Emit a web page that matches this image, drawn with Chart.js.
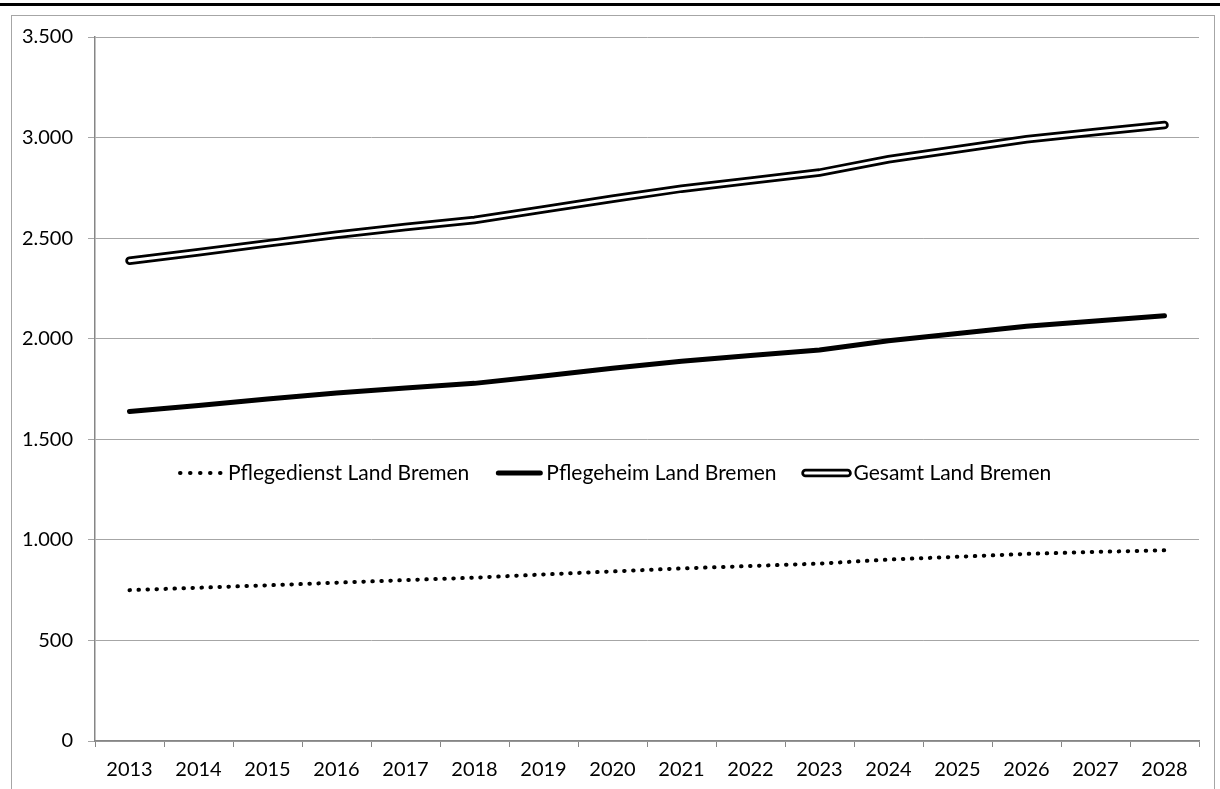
<!DOCTYPE html>
<html lang="de">
<head>
<meta charset="utf-8">
<title>Pflege Land Bremen 2013-2028</title>
<script src="https://cdn.jsdelivr.net/npm/chart.js@4.4.1/dist/chart.umd.min.js"></script>
<style>
  html, body { margin: 0; padding: 0; background: #fff; }
  #wrap { position: relative; width: 1220px; height: 789px; overflow: hidden; }
  .topbar { position: absolute; left: 0; top: 3px; width: 1220px; height: 3px; background: #000; }
  .frame { position: absolute; left: 11px; top: 15px; width: 1202px; height: 820px; border: 1px solid #a6a6a6; }
  #chart { position: absolute; left: 0; top: 0; }
</style>
</head>
<body>
<div id="wrap">
  <div class="topbar"></div>
  <div class="frame"></div>
  <canvas id="chart" width="1220" height="789"></canvas>
</div>
<script>
  // Jahre und Werte je Versorgungsart
  const years = ["2013", "2014", "2015", "2016", "2017", "2018", "2019", "2020",
                 "2021", "2022", "2023", "2024", "2025", "2026", "2027", "2028"];
  const pflegedienst = [750, 762, 774, 787, 800, 812, 828, 843, 858, 870, 882, 902, 916, 930, 940, 948];
  const pflegeheim = [1638, 1668, 1700, 1730, 1755, 1778, 1815, 1853, 1888, 1916, 1944, 1990, 2026, 2062, 2088, 2114];
  const gesamt = [2388, 2430, 2474, 2517, 2555, 2590, 2643, 2696, 2746, 2786, 2826, 2892, 2942, 2992, 3028, 3062];
  const yTicks = [0, 500, 1000, 1500, 2000, 2500, 3000, 3500];

  const FAMILY = "Lato, 'Open Sans', sans-serif";
  const FONT = { family: FAMILY, size: 20 };
  const LEGEND_SIZE = 21;
  const AXIS_GREY = "#868686";
  const GRID_GREY = "#a6a6a6";

  // 3500 -> "3.500"
  function formatDe(v) {
    return String(v).replace(/\B(?=(\d{3})+(?!\d))/g, ".");
  }

  // Legende als Zeile innerhalb der Zeichenfläche
  const legendRow = {
    id: "legendRow",
    afterDatasetsDraw(chart) {
      const ctx = chart.ctx;
      const labels = [];
      chart.data.datasets.forEach(function (ds) {
        if (labels.indexOf(ds.label) < 0) labels.push(ds.label);
      });
      let x = 178;
      const y = 473;
      const swatch = 46;
      ctx.save();
      ctx.font = LEGEND_SIZE + "px " + FAMILY;
      ctx.textBaseline = "middle";
      labels.forEach(function (label) {
        // outline before inner stroke
        const strokes = chart.data.datasets
          .filter(function (ds) { return ds.label === label; })
          .sort(function (a, b) { return (b.order || 0) - (a.order || 0); });
        strokes.forEach(function (ds) {
          ctx.beginPath();
          ctx.lineWidth = ds.legendWidth || ds.borderWidth;
          ctx.strokeStyle = ds.borderColor;
          ctx.lineCap = ds.borderCapStyle || "butt";
          ctx.setLineDash(ds.legendDash || ds.borderDash || []);
          ctx.moveTo(x + 2, y);
          ctx.lineTo(x + swatch - 2, y);
          ctx.stroke();
        });
        ctx.setLineDash([]);
        ctx.fillStyle = "#000";
        ctx.fillText(label, x + swatch + 4, y);
        x += swatch + 4 + ctx.measureText(label).width + 27;
      });
      ctx.restore();
    }
  };

  new Chart(document.getElementById("chart"), {
    type: "line",
    data: {
      labels: years,
      datasets: [
        {
          label: "Pflegedienst Land Bremen",
          data: pflegedienst,
          borderColor: "#000",
          borderWidth: 4,
          borderDash: [0.5, 8.5],
          legendDash: [0.5, 9.5],
          borderCapStyle: "round",
          pointRadius: 0,
          order: 0
        },
        {
          label: "Pflegeheim Land Bremen",
          data: pflegeheim,
          borderColor: "#000",
          borderWidth: 5,
          borderCapStyle: "round",
          pointRadius: 0,
          order: 0
        },
        {
          // white core of the double line
          label: "Gesamt Land Bremen",
          data: gesamt,
          borderColor: "#fff",
          borderWidth: 3,
          borderCapStyle: "round",
          pointRadius: 0,
          order: 0
        },
        {
          label: "Gesamt Land Bremen",
          data: gesamt,
          borderColor: "#000",
          borderWidth: 8.5,
          borderCapStyle: "round",
          pointRadius: 0,
          order: 1
        }
      ]
    },
    options: {
      responsive: false,
      animation: false,
      layout: { padding: { top: 37, right: 21, left: 0, bottom: 0 } },
      plugins: {
        legend: { display: false },
        tooltip: { enabled: false }
      },
      scales: {
        x: {
          offset: true,
          grid: {
            offset: true,
            drawOnChartArea: false,
            color: AXIS_GREY,
            tickLength: 6
          },
          border: { color: AXIS_GREY, width: 1.5 },
          ticks: {
            color: "#000",
            font: FONT,
            padding: 11,
            maxRotation: 0,
            autoSkip: false
          },
          afterFit(scale) { scale.height = 48; }
        },
        y: {
          min: 0,
          max: 3500,
          afterBuildTicks(scale) {
            scale.ticks = yTicks.map(function (v) { return { value: v }; });
          },
          grid: { color: GRID_GREY, tickLength: 7 },
          border: { color: AXIS_GREY, width: 1.5 },
          ticks: {
            color: "#000",
            font: FONT,
            padding: 15,
            callback: function (v) { return formatDe(v); }
          },
          afterFit(scale) { scale.width = 95; }
        }
      }
    },
    plugins: [legendRow]
  });
</script>
</body>
</html>
